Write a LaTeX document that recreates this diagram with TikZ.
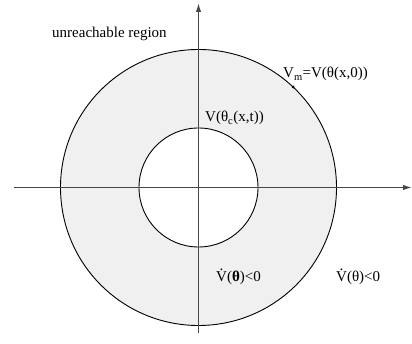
\documentclass[tikz,border=0pt]{standalone}
\usepackage{fontspec}
\setmainfont{Liberation Serif}
\usetikzlibrary{arrows.meta}
\newcommand{\dotV}{{\ooalign{V\cr\hidewidth\raisebox{0.74em}{.}\hidewidth\cr}}}
\begin{document}
\begin{tikzpicture}[x=1pt,y=-1pt,
  axis/.style={draw=black!72, line width=1.4pt, -{Latex[length=9pt,width=5.5pt]}},
  circ/.style={draw=black, line width=0.9pt},
  lbl/.style={inner sep=0pt, font=\fontsize{15}{18}\selectfont, anchor=base west},
  dotmark/.style={circle, fill=black, inner sep=0pt, minimum size=3pt}]
\useasboundingbox (0,0) rectangle (412,344);
\coordinate (O) at (198.5,187.5);
\fill[black!6, even odd rule] (O) circle[radius=138] (O) circle[radius=59.5];
\draw[circ] (O) circle[radius=138];
\draw[circ] (O) circle[radius=59.5];
\coordinate (xl) at (14,187.5);
\coordinate (xr) at (412,187.5);
\coordinate (yb) at (198.5,333);
\coordinate (yt) at (198.5,3);
\draw[axis] (xl) -- (xr);
\draw[axis] (yb) -- (yt);
\node[dotmark] (p) at (293,87) {};
\node[lbl] (ur) at (52,38) {unreachable region};
\node[lbl] (vm) at (283,78) {V\textsubscript{m}=V(θ(x,0))};
\node[lbl] (vc) at (205,122) {V(θ\textsubscript{c}(x,t))};
\node[lbl] (d1) at (216,282) {\dotV(\textbf{θ})<0};
\node[lbl] (d2) at (336,282) {\dotV(θ)<0};
\end{tikzpicture}
\end{document}
